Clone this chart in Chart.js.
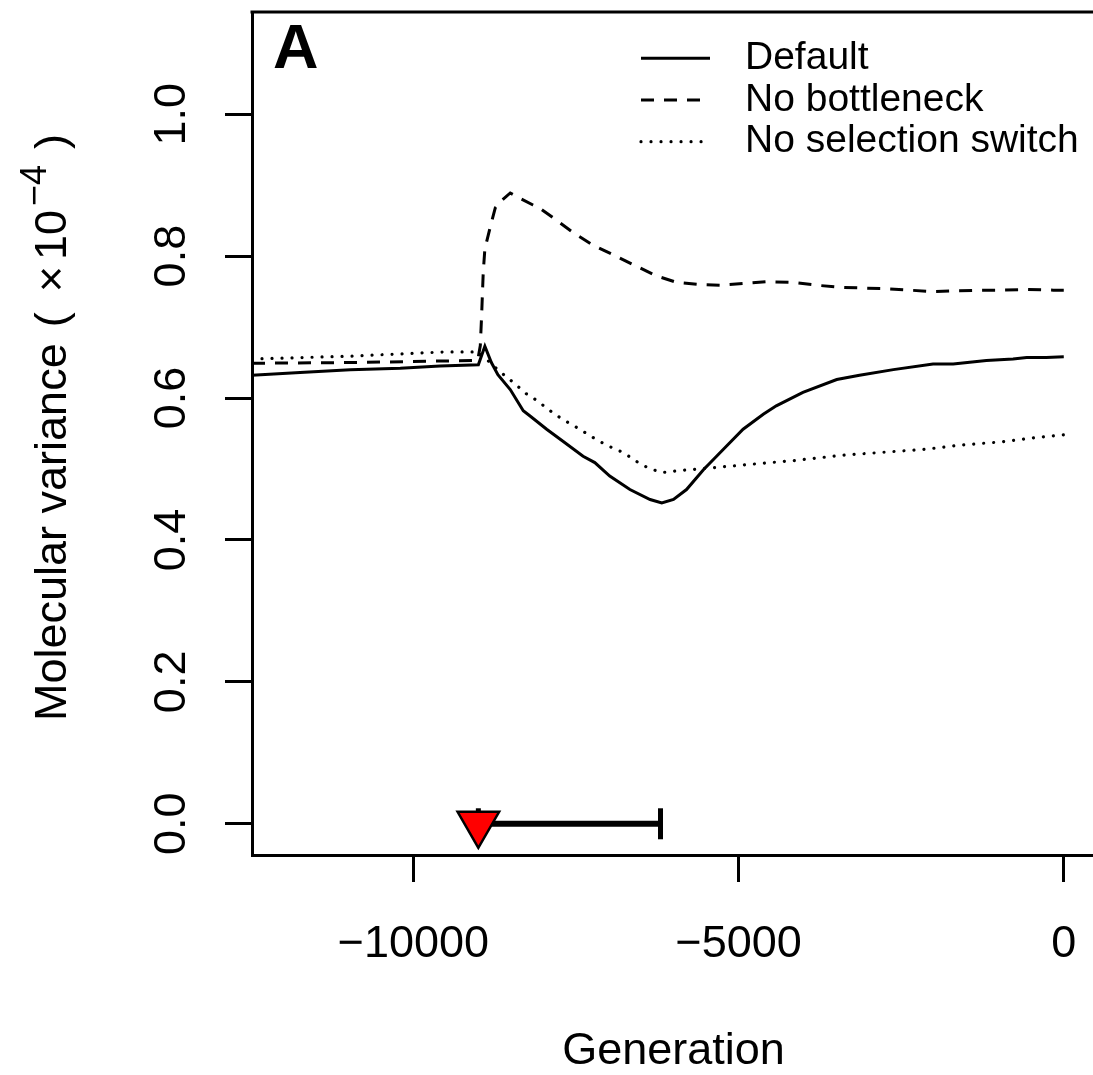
<!DOCTYPE html>
<html lang="en">
<head>
<meta charset="UTF-8">
<title>Molecular variance over generations</title>
<script src="https://cdn.jsdelivr.net/npm/chart.js"></script>
<style>
  html, body { margin: 0; padding: 0; background: #fff; overflow: hidden; }
</style>
</head>
<body>
<canvas id="myChart" width="1096" height="1075"></canvas>
<script>
// series names (legend order)
const seriesNames = ['Default', 'No bottleneck', 'No selection switch'];

// Default (solid)
const genDefault = [-12480, -11740, -10970, -10200, -9590, -9000, -8900, -8800, -8700, -8510, -8310, -8210, -7950, -7700, -7390, -7210, -6980, -6670, -6360, -6180, -6000, -5800, -5540, -5240, -4930, -4620, -4420, -4010, -3490, -3140, -2620, -2010, -1700, -1190, -780, -570, -270, 0];
const varDefault = [0.632, 0.636, 0.640, 0.642, 0.645, 0.647, 0.673, 0.650, 0.633, 0.612, 0.582, 0.575, 0.556, 0.539, 0.518, 0.509, 0.490, 0.471, 0.457, 0.452, 0.457, 0.471, 0.499, 0.527, 0.556, 0.577, 0.589, 0.608, 0.626, 0.632, 0.640, 0.648, 0.648, 0.653, 0.655, 0.657, 0.657, 0.658];

// No bottleneck (dashed)
const genNoBottleneck = [-12480, -10970, -9010, -8970, -8950, -8935, -8925, -8900, -8820, -8740, -8670, -8510, -8390, -8160, -8050, -7850, -7540, -7230, -6930, -6620, -6260, -5950, -5620, -5290, -4570, -4160, -3800, -3440, -3080, -2730, -2370, -2010, -1650, -1290, -930, -570, -160, 0];
const varNoBottleneck = [0.649, 0.650, 0.653, 0.674, 0.716, 0.753, 0.777, 0.810, 0.840, 0.868, 0.876, 0.889, 0.883, 0.872, 0.867, 0.854, 0.833, 0.815, 0.802, 0.788, 0.772, 0.763, 0.760, 0.759, 0.764, 0.763, 0.759, 0.756, 0.755, 0.754, 0.752, 0.750, 0.751, 0.752, 0.752, 0.753, 0.752, 0.752];

// No selection switch (dotted)
const genNoSwitch = [-12480, -10970, -9510, -9000, -8820, -8680, -8530, -8390, -8250, -8090, -7940, -7790, -7630, -7480, -7320, -7160, -6990, -6820, -6670, -6510, -6350, -6170, -5990, -5620, -5250, -4880, -4510, -4130, -3440, -2110, -1550, -980, -450, 0];
const varNoSwitch = [0.655, 0.659, 0.665, 0.665, 0.650, 0.638, 0.627, 0.616, 0.605, 0.596, 0.585, 0.575, 0.566, 0.558, 0.549, 0.540, 0.532, 0.525, 0.517, 0.507, 0.500, 0.495, 0.497, 0.500, 0.503, 0.506, 0.509, 0.512, 0.519, 0.528, 0.534, 0.538, 0.544, 0.548];

// bottleneck marker and selection-switch interval
const bottleneckGen = [-9000];
const switchSpan = [-9000, -6200];

const xTicks = [-10000, -5000, 0];
const yTicks = [0, 0.2, 0.4, 0.6, 0.8, 1.0];

const FONT = "'Liberation Sans', Arial, Helvetica, sans-serif";
const LW = 3;
Chart.defaults.font.family = FONT;
Chart.defaults.color = '#000';

const toPoints = (xs, ys) => xs.map((x, i) => ({ x: x, y: ys[i] }));
const minus = v => (v < 0 ? '\u2212' + Math.abs(v) : String(v));

// box top, tick labels, panel letter, y title, legend
const decorPlugin = {
    id: 'decor',
    afterDraw(chart) {
        const { ctx, chartArea, scales: { x, y } } = chart;
        ctx.save();
        ctx.strokeStyle = '#000';
        ctx.fillStyle = '#000';
        ctx.lineWidth = LW;
        ctx.beginPath();
        ctx.moveTo(chartArea.left - LW / 2, chartArea.top);
        ctx.lineTo(chartArea.right, chartArea.top);
        ctx.stroke();

        // tick labels (R style: y labels parallel to the axis)
        ctx.font = '45px ' + FONT;
        ctx.textAlign = 'center';
        ctx.textBaseline = 'alphabetic';
        xTicks.forEach(v => ctx.fillText(minus(v), x.getPixelForValue(v), chartArea.bottom + 102));
        yTicks.forEach(v => {
            ctx.save();
            ctx.translate(chartArea.left - 67, y.getPixelForValue(v));
            ctx.rotate(-Math.PI / 2);
            ctx.fillText(v.toFixed(1), 0, 0);
            ctx.restore();
        });

        ctx.font = 'bold 63px ' + FONT;
        ctx.textAlign = 'left';
        ctx.fillText('A', 273, 68);

        // legend
        ctx.font = '39px ' + FONT;
        ctx.textBaseline = 'middle';
        seriesNames.forEach((name, i) => {
            const ds = chart.data.datasets[i];
            const ly = 58.3 + i * 41.7;
            ctx.save();
            ctx.lineWidth = ds.borderWidth;
            ctx.lineCap = ds.borderCapStyle || 'butt';
            ctx.setLineDash(ds.borderDash || []);
            ctx.beginPath();
            ctx.moveTo(641, ly);
            ctx.lineTo(710, ly);
            ctx.stroke();
            ctx.restore();
            ctx.fillText(name, 745, ly);
        });

        // y axis title with superscript
        ctx.translate(66, 721);
        ctx.rotate(-Math.PI / 2);
        ctx.textBaseline = 'alphabetic';
        const big = '45px ' + FONT, small = '36px ' + FONT;
        // [text, font, raise, gap after]
        const parts = [
            ['Molecular variance', big, 0, 16],
            ['(', big, 0, 20],
            ['\u00d7', big, 0, 6],
            ['10', big, 0, 4],
            ['\u22124', small, -20, 16],
            [')', big, 0, 0]
        ];
        let cx = 0;
        parts.forEach(p => {
            ctx.font = p[1];
            ctx.fillText(p[0], cx, p[2]);
            cx += ctx.measureText(p[0]).width + p[3];
        });
        ctx.restore();
    }
};

const config = {
    type: 'line',
    data: {
        datasets: [
            {
                label: seriesNames[0],
                data: toPoints(genDefault, varDefault),
                borderColor: '#000', borderWidth: LW, pointRadius: 0, order: 3
            },
            {
                label: seriesNames[1],
                data: toPoints(genNoBottleneck, varNoBottleneck),
                borderColor: '#000', borderWidth: LW, borderDash: [13, 10], pointRadius: 0, order: 4
            },
            {
                label: seriesNames[2],
                data: toPoints(genNoSwitch, varNoSwitch),
                borderColor: '#000', borderWidth: 3.2, borderDash: [0.01, 10], borderCapStyle: 'round', pointRadius: 0, order: 5
            },
            {
                label: 'switch',
                data: toPoints(switchSpan, [0, 0]),
                borderColor: '#000', borderWidth: 6,
                pointStyle: 'line', rotation: 90, pointRadius: 15.5,
                pointBorderWidth: 5, pointBorderColor: '#000', order: 1
            },
            {
                label: 'bottleneck',
                data: toPoints(bottleneckGen, [0]),
                showLine: false,
                pointStyle: 'triangle', rotation: 180, pointRadius: 24,
                pointBackgroundColor: '#ff0000', pointBorderColor: '#000', pointBorderWidth: 2.5, order: 0
            }
        ]
    },
    options: {
        responsive: false,
        animation: false,
        devicePixelRatio: 1,
        layout: { autoPadding: false, padding: { top: 12, right: 1, left: 0, bottom: 0 } },
        plugins: { legend: { display: false }, tooltip: { enabled: false } },
        scales: {
            x: {
                type: 'linear',
                min: -12480, max: 480,
                afterFit: s => { s.height = 220; },
                afterBuildTicks: s => { s.ticks = xTicks.map(v => ({ value: v })); },
                grid: { drawOnChartArea: false, tickLength: 27, tickColor: '#000', tickWidth: LW },
                border: { color: '#000', width: LW },
                ticks: { display: false },
                title: { display: true, text: 'Generation', font: { size: 45, lineHeight: 1 }, padding: { top: 0, bottom: 1 } }
            },
            y: {
                type: 'linear',
                min: -0.044, max: 1.144,
                afterFit: s => { s.width = 252; },
                afterBuildTicks: s => { s.ticks = yTicks.map(v => ({ value: v })); },
                grid: { drawOnChartArea: false, tickLength: 27, tickColor: '#000', tickWidth: LW },
                border: { color: '#000', width: LW },
                ticks: { display: false }
            }
        }
    },
    plugins: [decorPlugin]
};

new Chart(document.getElementById('myChart').getContext('2d'), config);
</script>
</body>
</html>
